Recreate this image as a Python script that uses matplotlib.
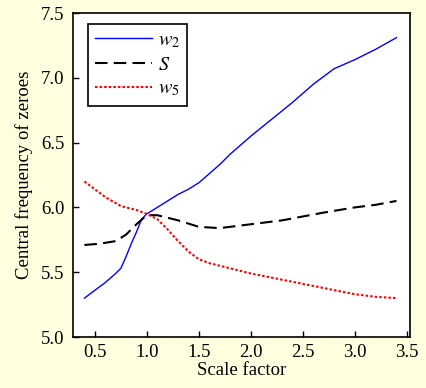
import numpy as np
import matplotlib
matplotlib.use("Agg")
import matplotlib.pyplot as plt

plt.rcParams['font.family'] = ['Liberation Serif', 'DejaVu Serif']
plt.rcParams['mathtext.fontset'] = 'stix'

# values
x_w2 = [0.4, 0.5, 0.6, 0.7, 0.75, 0.8, 0.85, 0.9, 0.95, 1.0, 1.1, 1.2, 1.3, 1.4, 1.5,
        1.6, 1.7, 1.8, 1.9, 2.0, 2.2, 2.4, 2.6, 2.8, 3.0, 3.2, 3.4]
w2 = [5.30, 5.36, 5.42, 5.49, 5.53, 5.62, 5.72, 5.81, 5.91, 5.95, 6.00, 6.05, 6.10, 6.14, 6.19,
      6.26, 6.33, 6.41, 6.48, 6.55, 6.68, 6.81, 6.95, 7.07, 7.14, 7.22, 7.31]

x_s = [0.4, 0.55, 0.7, 0.8, 0.9, 1.0, 1.1, 1.2, 1.3, 1.5, 1.7, 2.0, 2.3, 2.5, 2.7, 3.0, 3.2, 3.4]
s = [5.71, 5.72, 5.74, 5.79, 5.87, 5.94, 5.94, 5.92, 5.90, 5.85, 5.84, 5.87, 5.90, 5.93, 5.96, 6.00, 6.02, 6.05]

x_w5 = [0.4, 0.5, 0.6, 0.75, 0.9, 1.0, 1.1, 1.2, 1.3, 1.4, 1.5, 1.6, 1.7, 2.0, 2.5, 3.0, 3.2, 3.4]
w5 = [6.20, 6.14, 6.08, 6.01, 5.98, 5.95, 5.91, 5.83, 5.74, 5.66, 5.60, 5.57, 5.55, 5.49, 5.41, 5.33, 5.31, 5.30]

fig = plt.figure(figsize=(4.26, 3.88), dpi=100, facecolor='#FFFFE0')
ax = fig.add_axes([73/426, 51/388, 337/426, 324/388])
ax.set_facecolor('white')

ax.plot(x_w2, w2, color='blue', lw=1.0, label='$w_2$')
ax.plot(x_s, s, color='black', lw=1.5, ls=(0, (6, 3)), label='$S$')
ax.plot(x_w5, w5, color='red', lw=1.5, ls=(0, (1.2, 1.0)), label='$w_5$')

ax.set_xlim(0.29, 3.53)
ax.set_ylim(5.0, 7.5)
ax.set_xticks([0.5, 1.0, 1.5, 2.0, 2.5, 3.0, 3.5])
ax.set_yticks([5.0, 5.5, 6.0, 6.5, 7.0, 7.5])
ax.xaxis.set_major_formatter(matplotlib.ticker.FormatStrFormatter('%.1f'))
ax.yaxis.set_major_formatter(matplotlib.ticker.FormatStrFormatter('%.1f'))
ax.tick_params(direction='in', labelsize=13.5, length=4, width=1)
ax.tick_params(axis='y', pad=6)
ax.tick_params(axis='x', pad=5)
for sp in ax.spines.values():
    sp.set_linewidth(1.2)

ax.set_xlabel('Scale factor', fontsize=13.5, labelpad=1)
ax.set_ylabel('Central frequency of zeroes', fontsize=13.5, labelpad=6)

leg = ax.legend(loc='upper left', bbox_to_anchor=(0.045, 0.965), fontsize=14.5,
                fancybox=False, framealpha=1, edgecolor='black', handlelength=2.8,
                handletextpad=0.3, borderpad=0.35, labelspacing=0.25, borderaxespad=0)
leg.get_frame().set_linewidth(1.2)

fig.savefig('out.png', dpi=100, facecolor=fig.get_facecolor())
